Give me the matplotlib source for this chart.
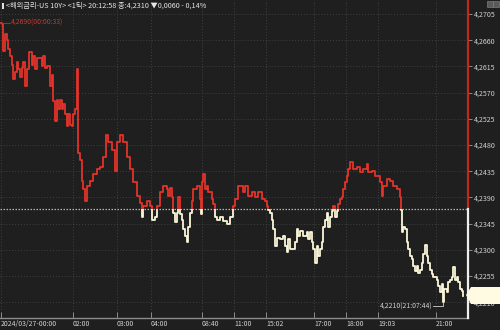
import matplotlib
matplotlib.use('Agg')
import matplotlib.pyplot as plt
from matplotlib.patches import Rectangle, Polygon

FONTS = ['Liberation Sans Narrow', 'Noto Sans CJK KR', 'DejaVu Sans']
plt.rcParams['font.family'] = FONTS

# tick sequence index (position along the tick-based time axis)
tick_idx = [1, 2, 3, 5, 7, 8, 10, 12, 13, 15, 17, 18, 20, 22, 23, 25, 27, 29, 32, 33,
            35, 37, 39, 42, 43, 45, 47, 50, 52, 53, 55, 57, 58, 60, 62, 63, 65, 67, 68, 70,
            72, 73, 75, 77, 78, 80, 82, 83, 85, 87, 90, 93, 97, 100, 103, 106, 108, 112, 115, 117,
            120, 123, 127, 130, 133, 137, 140, 142, 143, 147, 150, 152, 155, 157, 160, 163, 167, 168, 170, 172,
            173, 175, 177, 178, 180, 182, 183, 185, 187, 188, 190, 192, 193, 197, 200, 201, 202, 203, 205, 207,
            208, 210, 212, 213, 215, 217, 220, 223, 227, 230, 232, 233, 235, 238, 242, 243, 245, 248, 252, 255,
            258, 260, 262, 265, 267, 268, 270, 272, 273, 275, 277, 280, 283, 285, 287, 288, 290, 293, 295, 297,
            298, 300, 303, 307, 308, 310, 312, 313, 315, 317, 318, 320, 322, 323, 325, 327, 328, 330, 332, 333,
            335, 337, 338, 340, 342, 343, 345, 347, 348, 350, 353, 357, 360, 363, 367, 368, 372, 375, 378, 380,
            382, 383, 387, 390, 393, 397, 400, 401, 402, 403, 405, 407, 408, 410, 412, 413, 415, 417, 418, 420,
            422, 423, 425, 427, 428, 430, 432, 433, 437, 438, 440, 442, 443, 444, 447, 448, 450, 452, 453, 455,
            457, 458, 460, 462, 463]
values = [4.2690, 4.2687, 4.2641, 4.2670, 4.2661, 4.2644, 4.2632, 4.2618, 4.2593, 4.2606, 4.2622, 4.2610, 4.2596, 4.2613, 4.2622, 4.2581, 4.2610, 4.2639, 4.2618, 4.2632,
          4.2610, 4.2630, 4.2630, 4.2615, 4.2632, 4.2613, 4.2615, 4.2581, 4.2601, 4.2555, 4.2521, 4.2558, 4.2541, 4.2558, 4.2541, 4.2550, 4.2533, 4.2512, 4.2533, 4.2515,
          4.2512, 4.2533, 4.2541, 4.2610, 4.2467, 4.2455, 4.2418, 4.2404, 4.2384, 4.2409, 4.2418, 4.2430, 4.2438, 4.2443, 4.2460, 4.2498, 4.2485, 4.2472, 4.2435, 4.2485,
          4.2498, 4.2485, 4.2460, 4.2438, 4.2416, 4.2392, 4.2381, 4.2357, 4.2375, 4.2383, 4.2375, 4.2352, 4.2357, 4.2375, 4.2399, 4.2409, 4.2404, 4.2392, 4.2407, 4.2390,
          4.2364, 4.2347, 4.2364, 4.2390, 4.2361, 4.2352, 4.2335, 4.2323, 4.2313, 4.2340, 4.2364, 4.2383, 4.2404, 4.2409, 4.2387, 4.2361, 4.2416, 4.2430, 4.2404, 4.2409,
          4.2399, 4.2400, 4.2387, 4.2378, 4.2357, 4.2352, 4.2356, 4.2349, 4.2344, 4.2356, 4.2357, 4.2375, 4.2387, 4.2409, 4.2409, 4.2400, 4.2409, 4.2392, 4.2400, 4.2390,
          4.2399, 4.2399, 4.2387, 4.2383, 4.2375, 4.2369, 4.2364, 4.2352, 4.2335, 4.2306, 4.2321, 4.2318, 4.2323, 4.2306, 4.2296, 4.2318, 4.2301, 4.2301, 4.2313, 4.2335,
          4.2323, 4.2332, 4.2323, 4.2330, 4.2318, 4.2330, 4.2314, 4.2301, 4.2278, 4.2306, 4.2289, 4.2301, 4.2313, 4.2340, 4.2352, 4.2364, 4.2340, 4.2357, 4.2366, 4.2375,
          4.2357, 4.2366, 4.2378, 4.2387, 4.2390, 4.2404, 4.2416, 4.2426, 4.2438, 4.2450, 4.2438, 4.2443, 4.2433, 4.2438, 4.2447, 4.2433, 4.2435, 4.2426, 4.2426, 4.2416,
          4.2392, 4.2409, 4.2421, 4.2418, 4.2409, 4.2404, 4.2390, 4.2369, 4.2330, 4.2340, 4.2335, 4.2313, 4.2301, 4.2289, 4.2284, 4.2272, 4.2263, 4.2272, 4.2261, 4.2266,
          4.2278, 4.2292, 4.2309, 4.2289, 4.2278, 4.2266, 4.2258, 4.2254, 4.2249, 4.2237, 4.2227, 4.2241, 4.2210, 4.2232, 4.2227, 4.2244, 4.2249, 4.2254, 4.2270, 4.2249,
          4.2253, 4.2244, 4.2232, 4.2229, 4.2220]

x_tick_pos = [1, 73, 117, 151, 202, 234, 266, 314, 346, 378, 436]
x_tick_labels = ['2024/03/27-00:00', '02:00', '03:00', '04:00', '08:40', '11:00',
                 '15:02', '17:00', '18:00', '19:03', '21:00']
y_ticks = [4.2210, 4.2255, 4.2300, 4.2345, 4.2390, 4.2435, 4.2480, 4.2525,
           4.2570, 4.2615, 4.2660, 4.2705]
prev_close = 4.2370
high_label = '4,2690(00:00:33)'
low_label = '4,2210(21:07:44)'
current_label = '4,2220'
header = '<해외금리-US 10Y> <1틱> 20:12:58 종:4,2310 ▼0,0060 - 0,14%'

BG = '#1f1f1f'
RED = '#e3342b'
WHITE = '#fbf6da'
GRID = '#4a4a4a'
TXT = '#d2d2d2'

W, H = 500, 330
fig = plt.figure(figsize=(5, 3.3), dpi=100, facecolor=BG)
ax = fig.add_axes([0, 12 / H, 468 / W, 318 / H], facecolor=BG)
x0, x1 = 0, 468
ylo, yhi = 4.21829, 4.27290

for s in ['top', 'left', 'right']:
    ax.spines[s].set_visible(False)
ax.spines['bottom'].set_color('#8c8c8c')
ax.spines['bottom'].set_linewidth(1.0)

ax.yaxis.tick_right()
ax.set_yticks(y_ticks)
ax.set_yticklabels([f'{v:.4f}'.replace('.', ',') for v in y_ticks])
ax.tick_params(axis='y', colors='#9a9a9a', length=3, width=0.6, pad=1.5,
               labelsize=5.1, labelcolor=TXT)
ax.set_xticks(x_tick_pos)
ax.set_xticklabels(x_tick_labels)
ax.tick_params(axis='x', colors='#9a9a9a', direction='in', length=4, width=0.6, pad=1.5,
               labelsize=5.0, labelcolor=TXT)
for lbl in ax.get_xticklabels():
    lbl.set_horizontalalignment('left')
ax.set_xlim(x0, x1)
ax.set_ylim(ylo, yhi)

ax.grid(True, color=GRID, linestyle=(0, (1, 2.5)), linewidth=0.6)
ax.set_axisbelow(True)

# previous close reference line
ax.axhline(prev_close, color='#b4b4b4', linestyle=(0, (1.2, 1.2)), linewidth=0.9, zorder=2)

# price line, red above previous close, cream below
l1, = ax.plot(tick_idx, values, drawstyle='steps-post', color=RED, linewidth=1.3, zorder=3)
l1.set_clip_path(Rectangle((x0, prev_close), x1 - x0, 1, transform=ax.transData))
l2, = ax.plot(tick_idx, values, drawstyle='steps-post', color=WHITE, linewidth=1.3, zorder=3)
l2.set_clip_path(Rectangle((x0, prev_close - 1), x1 - x0, 1, transform=ax.transData))

# right axis line in two colours
frac = (prev_close - ylo) / (yhi - ylo)
ax.axvline(x1, ymin=frac, ymax=1, color='#c0271f', linewidth=1.6, clip_on=False, zorder=4)
ax.axvline(x1, ymin=0, ymax=frac, color='#eeeeee', linewidth=1.6, clip_on=False, zorder=4)

# high annotation
hi_v = max(values)
hi_i = tick_idx[values.index(hi_v)]
ax.plot([hi_i, hi_i + 9], [hi_v, hi_v], color='#b8322b', linewidth=0.6, zorder=4)
ax.text(hi_i + 10, hi_v, high_label, color='#c43a32', fontsize=4.9, va='center', ha='left')

# low annotation
lo_v = min(values)
lo_i = tick_idx[values.index(lo_v)]
lab_y = lo_v - 0.0007
ax.plot([lo_i - 10, lo_i, lo_i], [lab_y, lab_y, lo_v], color='#cfcfcf', linewidth=0.6, zorder=4)
ax.text(lo_i - 10.5, lab_y, low_label, color=TXT, fontsize=4.9, va='center', ha='right')

# current price box on right axis
bx = [466 / W, 471 / W, 1.0, 1.0, 471 / W]
by = [1 - 295 / H, 1 - 287 / H, 1 - 287 / H, 1 - 304 / H, 1 - 304 / H]
fig.add_artist(Polygon(list(zip(bx, by)), closed=True, facecolor='#fffbe3',
                       edgecolor='none', transform=fig.transFigure, zorder=10))
fig.text(486 / W, 1 - 295 / H, current_label, color='#fffbe3', fontsize=5.0,
         ha='center', va='center', zorder=11)

# header
fig.add_artist(Rectangle((2 / W, 1 - 9 / H), 1.5 / W, 6 / H, facecolor='#e0e0e0',
                         edgecolor='none', transform=fig.transFigure))
fig.text(6 / W, 1 - 6 / H, header, color='#e6e6e6', fontsize=5.2, ha='left', va='center')

# small window icons top right
for xx in (487, 493):
    fig.add_artist(Rectangle((xx / W, 1 - 7 / H), 5.5 / W, 5.5 / H, facecolor='#5a5a5a',
                             edgecolor='#8a8a8a', linewidth=0.4, transform=fig.transFigure))

fig.savefig('out.png', dpi=100, facecolor=BG)
